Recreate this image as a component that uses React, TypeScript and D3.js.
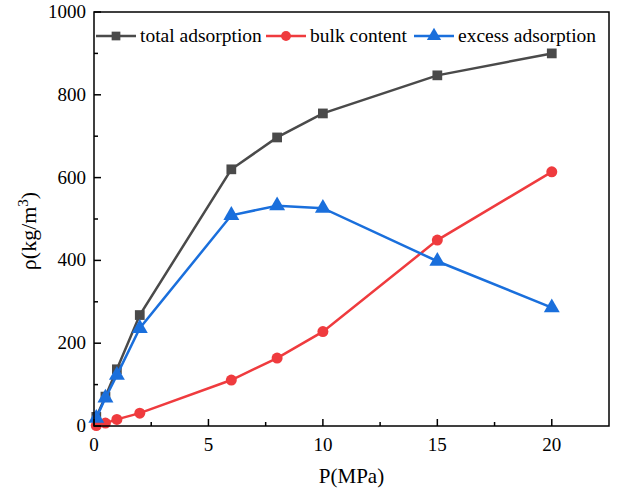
import * as d3 from 'd3'

const pressure = [0.1, 0.5, 1, 2, 6, 8, 10, 15, 20]
const totalAdsorption = [22, 71, 137, 268, 620, 697, 755, 847, 900]
const bulkContent = [1, 7, 16, 31, 111, 164, 228, 449, 614]
const excessAdsorption = [19, 68, 123, 236, 509, 532, 526, 398, 286]
const xTicks = [0, 5, 10, 15, 20]
const yTicks = [0, 200, 400, 600, 800, 1000]
const seriesNames = ['total adsorption', 'bulk content', 'excess adsorption']

const W = 618
const H = 495
const margin = { left: 94, right: 9, top: 12, bottom: 69 }
const font = '"Liberation Serif", "Times New Roman", serif'

const colors = ['#4a4a4a', '#ef3b3e', '#1a6fdc']
const shapes = [d3.symbolSquare, d3.symbolCircle, d3.symbolTriangle]
const sizes = [95, 95, 110]

const x = d3.scaleLinear().domain([0, 22.5]).range([margin.left, W - margin.right])
const y = d3.scaleLinear().domain([0, 1000]).range([H - margin.bottom, margin.top])

const line = d3
  .line<number>()
  .x((_, i) => x(pressure[i]))
  .y(d => y(d))

export default function App() {
  const series = [totalAdsorption, bulkContent, excessAdsorption]
  const bottom = H - margin.bottom
  const minorX = d3.range(0, 22.5, 2.5)
  const minorY = d3.range(0, 1001, 100)
  const legendX = [96, 266, 414]

  return (
    <svg width={W} height={H} style={{ position: 'absolute', left: 0, top: 0 }} fontFamily={font}>
      <rect width={W} height={H} fill="white" />

      {series.map((s, k) => (
        <g key={k}>
          <path d={line(s) ?? ''} fill="none" stroke={colors[k]} strokeWidth={2.5} />
          {s.map((v, i) => (
            <path
              key={i}
              d={d3.symbol(shapes[k], sizes[k])() ?? ''}
              transform={`translate(${x(pressure[i])},${y(v)})`}
              fill={colors[k]}
            />
          ))}
        </g>
      ))}

      {/* frame */}
      <rect
        x={margin.left}
        y={margin.top}
        width={W - margin.left - margin.right}
        height={bottom - margin.top}
        fill="none"
        stroke="black"
        strokeWidth={1.5}
      />

      {minorX.map(t => (
        <line key={t} x1={x(t)} x2={x(t)} y1={bottom} y2={bottom - (t % 5 === 0 ? 7 : 4)} stroke="black" strokeWidth={1.5} />
      ))}
      {minorY.map(t => (
        <line key={t} x1={margin.left} x2={margin.left + (t % 200 === 0 ? 7 : 4)} y1={y(t)} y2={y(t)} stroke="black" strokeWidth={1.5} />
      ))}

      {xTicks.map(t => (
        <text key={t} x={x(t)} y={bottom + 25} fontSize={19} textAnchor="middle">
          {t}
        </text>
      ))}
      {yTicks.map(t => (
        <text key={t} x={margin.left - 8} y={y(t) + 6} fontSize={19} textAnchor="end">
          {t}
        </text>
      ))}

      <text x={(margin.left + W - margin.right) / 2} y={H - 12} fontSize={21} textAnchor="middle">
        P(MPa)
      </text>
      <text transform={`translate(36,${(margin.top + bottom) / 2 + 12}) rotate(-90)`} fontSize={22} textAnchor="middle">
        ρ(kg/m<tspan dy={-8} fontSize={15}>3</tspan>
        <tspan dy={8}>)</tspan>
      </text>

      {seriesNames.map((name, k) => (
        <g key={name} transform={`translate(${legendX[k]},36)`}>
          <line x1={0} x2={40} stroke={colors[k]} strokeWidth={2.5} />
          <path d={d3.symbol(shapes[k], sizes[k] * 0.8)() ?? ''} transform="translate(20,0)" fill={colors[k]} />
          <text x={44} y={6} fontSize={19.5}>
            {name}
          </text>
        </g>
      ))}
    </svg>
  )
}
